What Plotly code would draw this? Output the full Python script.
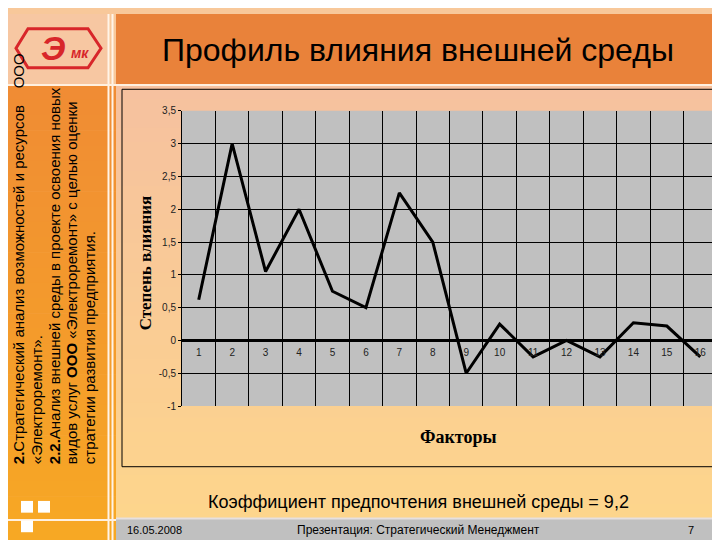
import plotly.graph_objects as go

# ---------------- data ----------------
factors = list(range(1, 17))
factor_labels = [str(i) for i in factors]
influence = [0.62, 3.0, 1.05, 2.0, 0.75, 0.5, 2.25, 1.5, -0.5, 0.25, -0.25, 0.0, -0.25, 0.27, 0.22, -0.25]
y_tick_vals = [-1, -0.5, 0, 0.5, 1, 1.5, 2, 2.5, 3, 3.5]
y_tick_text = ["-1", "-0,5", "0", "0,5", "1", "1,5", "2", "2,5", "3", "3,5"]

title_text = "Профиль влияния внешней среды"
y_title = "Степень влияния"
x_title = "Факторы"
coef_text = "Коэффициент предпочтения внешней среды = 9,2"
footer_date = "16.05.2008"
footer_center = "Презентация: Стратегический Менеджмент"
footer_page = "7"
side_lines = [
    "<b>2.</b>Стратегический анализ возможностей и ресурсов    ООО",
    "«Электроремонт».",
    "<b>2.2.</b>Анализ внешней среды в проекте освоения новых",
    "видов услуг <b>ООО</b> «Электроремонт» с целью оценки",
    "стратегии развития предприятия.",
]
side_x = [10, 28, 46, 63, 81]

W, H = 720, 540


def px(x):
    return x / W


def py(y):
    return 1 - y / H


def lerp(c1, c2, t):
    a = [int(c1[i:i + 2], 16) for i in (1, 3, 5)]
    b = [int(c2[i:i + 2], 16) for i in (1, 3, 5)]
    return "rgb(%d,%d,%d)" % tuple(round(a[k] + (b[k] - a[k]) * t) for k in range(3))


shapes = []


def rect(x0, y0, x1, y1, fill, line=None, lw=0, layer="below"):
    shapes.append(dict(type="rect", xref="paper", yref="paper",
                       x0=px(x0), x1=px(x1), y0=py(y1), y1=py(y0),
                       fillcolor=fill, line=dict(color=line or fill, width=lw), layer=layer))


def gradient(x0, y0, x1, y1, c_top, c_bot, n=30):
    h = (y1 - y0) / n
    for i in range(n):
        c = lerp(c_top, c_bot, i / (n - 1))
        rect(x0, y0 + i * h, x1, y0 + (i + 1) * h + 0.6, c)


# body gradient
gradient(108, 72, 720, 516, "#F6C19F", "#FDD58C")
# header band
rect(108, 0, 720, 72, "#E9823A")
# left orange band
gradient(0, 72, 108, 540, "#F08C34", "#F7A824")
# logo area
rect(0, 0, 100, 72, "#F7C7A2")
# footer
rect(108, 516, 720, 540, "#C0C0C0")
shapes.append(dict(type="line", xref="paper", yref="paper", x0=px(108), x1=px(720),
                   y0=py(516), y1=py(516), line=dict(color="#E6E0E0", width=2), layer="below"))
# white separators
for xv in (100.5, 104.5):
    shapes.append(dict(type="line", xref="paper", yref="paper", x0=px(xv), x1=px(xv),
                       y0=0, y1=1, line=dict(color="#FFF4E8", width=2), layer="below"))
shapes.append(dict(type="line", xref="paper", yref="paper", x0=0, x1=1,
                   y0=py(72.5), y1=py(72.5), line=dict(color="#FFF0E0", width=2), layer="below"))
shapes.append(dict(type="line", xref="paper", yref="paper", x0=0, x1=px(108),
                   y0=py(517.5), y1=py(517.5), line=dict(color="#FFF0E0", width=2), layer="below"))
# white squares
rect(13, 498, 25, 510, "#FFFFFF")
rect(30, 498, 42, 510, "#FFFFFF")
rect(13, 518, 25, 530, "#FFFFFF")
# chart frame
shapes.append(dict(type="rect", xref="paper", yref="paper", x0=px(114), x1=px(716),
                   y0=py(463), y1=py(77), line=dict(color="#000000", width=1),
                   fillcolor="rgba(0,0,0,0)", layer="below"))
# plot area background (gray)
plot_x0, plot_x1, plot_y0, plot_y1 = 174, 709, 99, 401
rect(plot_x0, plot_y0, plot_x1, plot_y1, "#C0C0C0")
# logo outline (hexagon)
hexpath = "M {} {} L {} {} L {} {} L {} {} L {} {} L {} {} Z".format(
    px(20), py(15), px(80), py(15), px(93), py(35), px(80), py(55), px(20), py(55), px(8), py(35))
shapes.append(dict(type="path", xref="paper", yref="paper", path=hexpath,
                   line=dict(color="#D8262A", width=3), fillcolor="rgba(0,0,0,0)", layer="above"))

annotations = []


def text(x, y, s, size, color="#000000", family="Liberation Sans, Arial", xanchor="center",
         yanchor="middle", angle=0):
    annotations.append(dict(xref="paper", yref="paper", x=px(x), y=py(y), text=s, showarrow=False,
                            xanchor=xanchor, yanchor=yanchor, textangle=angle,
                            font=dict(size=size, color=color, family=family)))


text(410, 37, title_text, 32)
text(137, 255, "<b>%s</b>" % y_title, 17, family="Liberation Serif, Times New Roman", angle=-90)
text(450, 433, "<b>%s</b>" % x_title, 18, family="Liberation Serif, Times New Roman")
text(410, 499, coef_text, 18)
text(117, 528, footer_date, 11, xanchor="left")
text(410, 528, footer_center, 12)
text(683, 528, footer_page, 11)
for sx, line in zip(side_x, side_lines):
    annotations.append(dict(xref="paper", yref="paper", x=px(sx), y=py(463), text=line,
                            showarrow=False, xanchor="center", yanchor="bottom", textangle=-90,
                            font=dict(size=15, color="#000000", family="Liberation Sans, Arial")))
# logo letters
text(45, 35, "<b><i>Э</i></b>", 34, color="#D8262A")
text(72, 40, "<b><i>мк</i></b>", 14, color="#D8262A")

# ---------------- figure ----------------
fig = go.Figure()
fig.add_trace(go.Scatter(x=factors, y=influence, mode="lines",
                         line=dict(color="#000000", width=3), showlegend=False, hoverinfo="skip"))
# invisible trace for the label axis
fig.add_trace(go.Scatter(x=factors, y=influence, xaxis="x2", mode="lines",
                         line=dict(width=0), opacity=0, showlegend=False, hoverinfo="skip"))

y_dom = [py(plot_y1), py(plot_y0)]
zero_pos = y_dom[0] + (0 - (-1)) / 4.5 * (y_dom[1] - y_dom[0])

fig.update_layout(
    width=W, height=H,
    margin=dict(l=0, r=0, t=0, b=0),
    paper_bgcolor="#F8C89A",
    plot_bgcolor="#C0C0C0",
    shapes=shapes,
    annotations=annotations,
    xaxis=dict(domain=[px(plot_x0), px(plot_x1)], range=[0.5, 16.5], tick0=0.5, dtick=1,
               showticklabels=False, showgrid=True, gridcolor="#000000", gridwidth=1,
               zeroline=False, showline=False, ticks=""),
    xaxis2=dict(overlaying="x", anchor="free", position=zero_pos, range=[0.5, 16.5],
                tickvals=factors, ticktext=factor_labels, showgrid=False, zeroline=False,
                showline=False, ticks="outside", ticklen=3, tickcolor="rgba(0,0,0,0)",
                tickfont=dict(size=10, color="#222222", family="Liberation Sans, Arial"),
                side="bottom"),
    yaxis=dict(domain=y_dom, range=[-1, 3.5], tickvals=y_tick_vals, ticktext=y_tick_text,
               showgrid=True, gridcolor="#000000", gridwidth=1,
               zeroline=True, zerolinecolor="#000000", zerolinewidth=3,
               showline=True, linecolor="#000000", linewidth=1,
               ticks="outside", ticklen=3, tickcolor="#000000",
               tickfont=dict(size=10, color="#222222", family="Liberation Sans, Arial")),
)

fig.write_html("out.html")
